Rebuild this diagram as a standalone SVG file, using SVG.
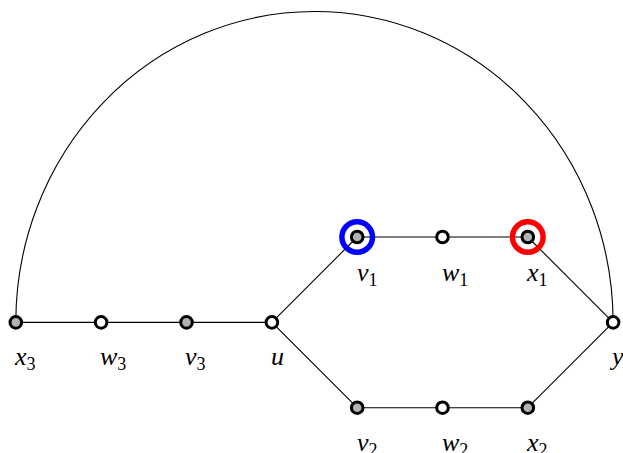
<svg xmlns="http://www.w3.org/2000/svg" width="623" height="453" viewBox="0 0 623 453">
<style>
.e{stroke:#000;stroke-width:1.1;fill:none}
.n{stroke:#000;stroke-width:3}
.g{fill:#b3b3b3}
.w{fill:#fff}
.l{font-family:"Times New Roman",Times,"Liberation Serif",serif;font-style:italic;font-size:26px;fill:#000}
.s{font-style:normal;font-size:18px}
</style>
<rect width="623" height="453" fill="#fff"/>
<g id="edges">
<path class="e" d="M15.8 322.4 A298.65 310.9 0 0 1 613.1 322.4"/>
<line class="e" x1="15.8" y1="322.4" x2="271.9" y2="322.4"/>
<line class="e" x1="271.9" y1="322.4" x2="357.2" y2="237"/>
<line class="e" x1="357.2" y1="237" x2="527.8" y2="237"/>
<line class="e" x1="527.8" y1="237" x2="613.1" y2="322.4"/>
<line class="e" x1="271.9" y1="322.4" x2="357.2" y2="407.7"/>
<line class="e" x1="357.2" y1="407.7" x2="527.8" y2="407.7"/>
<line class="e" x1="527.8" y1="407.7" x2="613.1" y2="322.4"/>
</g>
<g id="x3"><circle class="n g" cx="15.8" cy="322.4" r="5.8"/><text class="l" x="15" y="365">x<tspan class="s" dy="5">3</tspan></text></g>
<g id="w3"><circle class="n w" cx="101.1" cy="322.4" r="5.8"/><text class="l" x="100" y="365">w<tspan class="s" dy="5">3</tspan></text></g>
<g id="v3"><circle class="n g" cx="186.5" cy="322.4" r="5.8"/><text class="l" x="185" y="365">v<tspan class="s" dy="5">3</tspan></text></g>
<g id="u"><circle class="n w" cx="271.9" cy="322.4" r="5.8"/><text class="l" x="271" y="365">u</text></g>
<g id="v1"><circle cx="357.2" cy="237" r="15.3" fill="none" stroke="#0000ff" stroke-width="5.5"/><circle class="n g" cx="357.2" cy="237" r="5.8"/><text class="l" x="357" y="281">v<tspan class="s" dy="5">1</tspan></text></g>
<g id="w1"><circle class="n w" cx="442.5" cy="237" r="5.8"/><text class="l" x="442" y="281">w<tspan class="s" dy="5">1</tspan></text></g>
<g id="x1"><circle cx="527.8" cy="237" r="15.3" fill="none" stroke="#ff0000" stroke-width="5.5"/><circle class="n g" cx="527.8" cy="237" r="5.8"/><text class="l" x="527" y="281">x<tspan class="s" dy="5">1</tspan></text></g>
<g id="y"><circle class="n w" cx="613.1" cy="322.4" r="5.8"/><text class="l" x="612" y="365">y</text></g>
<g id="v2"><circle class="n g" cx="357.2" cy="407.7" r="5.8"/><text class="l" x="357" y="451">v<tspan class="s" dy="5">2</tspan></text></g>
<g id="w2"><circle class="n w" cx="442.5" cy="407.7" r="5.8"/><text class="l" x="442" y="451">w<tspan class="s" dy="5">2</tspan></text></g>
<g id="x2"><circle class="n g" cx="527.8" cy="407.7" r="5.8"/><text class="l" x="527" y="451">x<tspan class="s" dy="5">2</tspan></text></g>
</svg>
